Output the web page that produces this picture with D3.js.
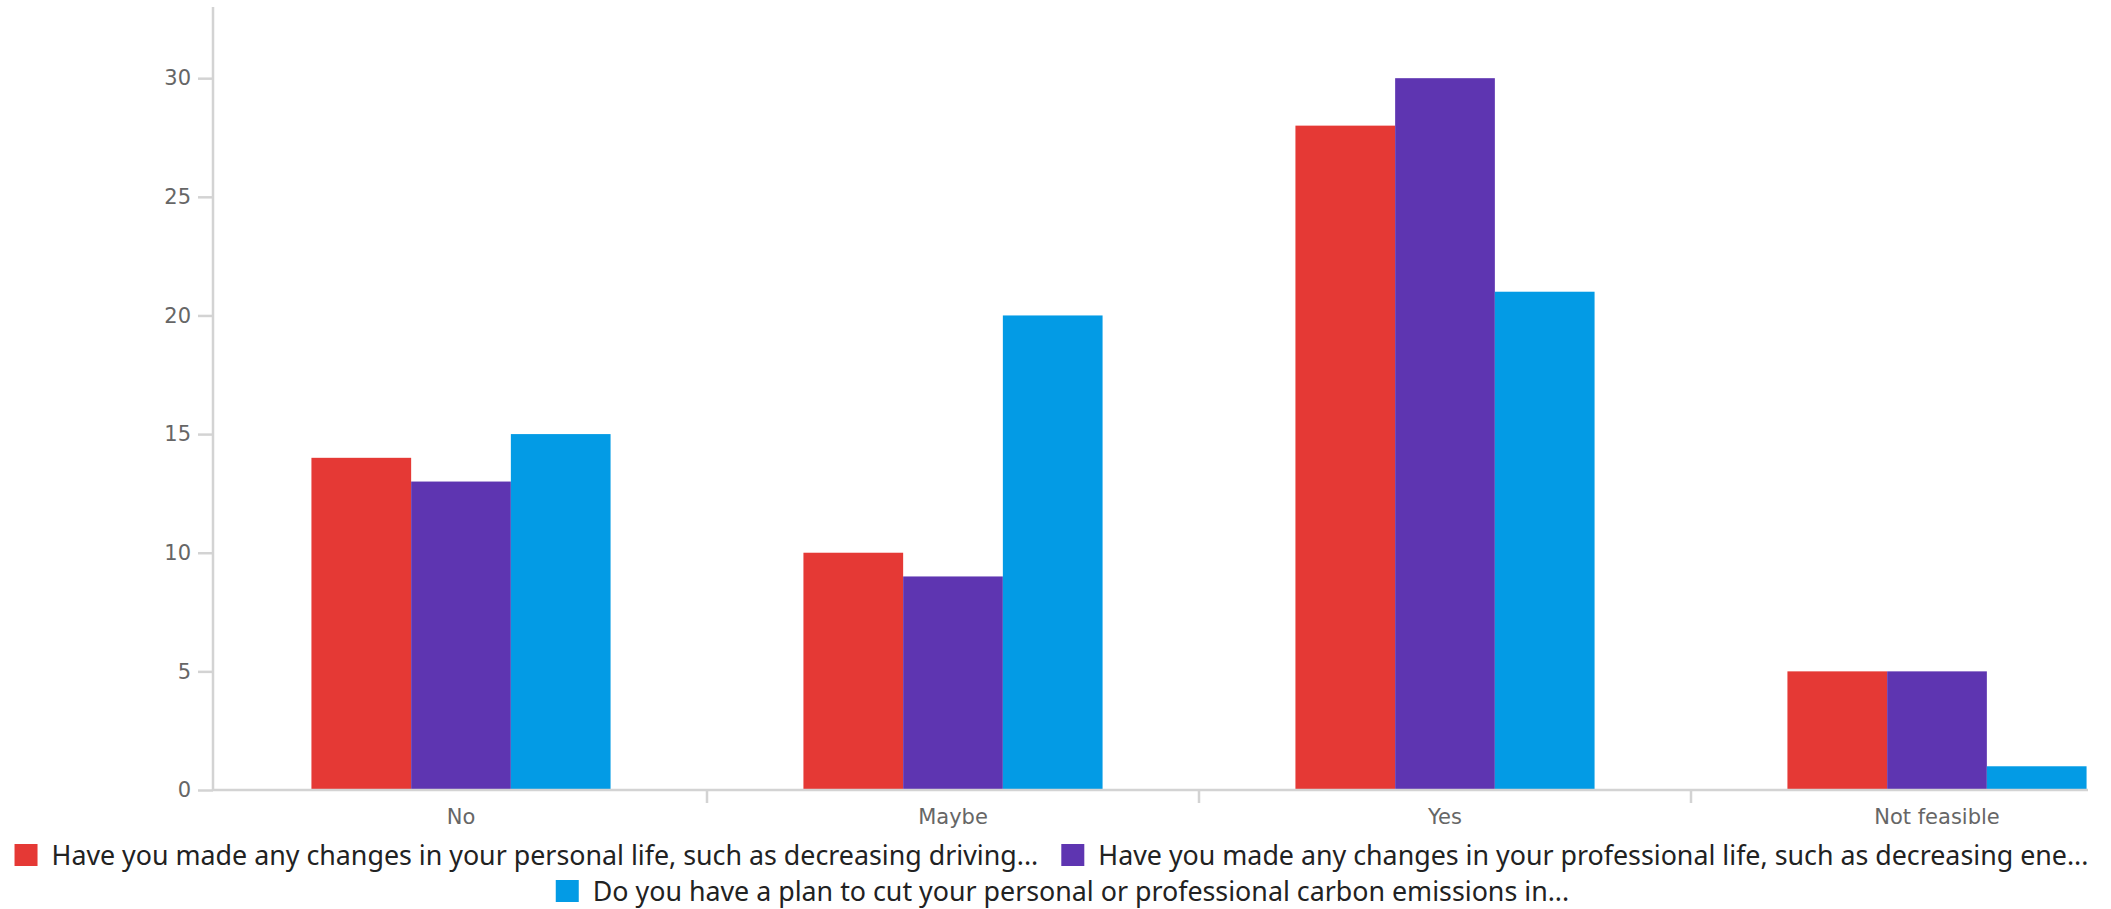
<!DOCTYPE html>
<html>
<head>
<meta charset="utf-8">
<script src="https://cdn.jsdelivr.net/npm/d3@7"></script>
<style>
  html, body { margin: 0; padding: 0; background: #fff; }
  svg { display: block; }
</style>
</head>
<body>
<svg id="chart" width="2111" height="909"></svg>
<script>
const categories = ["No", "Maybe", "Yes", "Not feasible"];
const seriesNames = [
  "Have you made any changes in your personal life, such as decreasing driving...",
  "Have you made any changes in your professional life, such as decreasing ene...",
  "Do you have a plan to cut your personal or professional carbon emissions in..."
];
const personalValues = [14, 10, 28, 5];
const professionalValues = [13, 9, 30, 5];
const planValues = [15, 20, 21, 1];
const seriesColors = ["#E53935", "#5E35B1", "#039BE5"];
const yTicks = [0, 5, 10, 15, 20, 25, 30];

const seriesValues = [personalValues, professionalValues, planValues];
const svg = d3.select("#chart");

const x0 = d3.scaleBand().domain(categories).range([215, 2183]).padding(0);
const x1 = d3.scaleBand().domain(d3.range(seriesNames.length))
  .range([x0.bandwidth() * 0.196, x0.bandwidth() * 0.804]).padding(0);
const y = d3.scaleLinear().domain([0, 33]).range([790, 7]);

svg.append("defs").append("clipPath").attr("id", "clip")
  .append("rect").attr("x", 0).attr("y", 0).attr("width", 2088).attr("height", 909);

const plot = svg.append("g").attr("clip-path", "url(#clip)");

// bars
const groups = plot.selectAll("g.cat").data(categories).enter().append("g")
  .attr("class", "cat")
  .attr("transform", d => `translate(${x0(d)},0)`);
groups.selectAll("rect").data((c, ci) => seriesValues.map((vals, si) => ({si, v: vals[ci]})))
  .enter().append("rect")
  .attr("x", d => x1(d.si))
  .attr("width", x1.bandwidth())
  .attr("y", d => y(d.v))
  .attr("height", d => y(0) - y(d.v))
  .attr("fill", d => seriesColors[d.si]);

// x axis
const axisColor = "#d3d3d3";
const labelColor = "#666";
const xAxisG = plot.append("g").attr("transform", `translate(0,${y(0)})`);
xAxisG.append("line").attr("x1", 213).attr("x2", x0.range()[1])
  .attr("stroke", axisColor).attr("stroke-width", 2.5);
xAxisG.selectAll("line.tick").data(categories.slice(1)).enter().append("line")
  .attr("class", "tick")
  .attr("x1", d => x0(d)).attr("x2", d => x0(d))
  .attr("y1", 0).attr("y2", 13)
  .attr("stroke", axisColor).attr("stroke-width", 2.5);
xAxisG.selectAll("text").data(categories).enter().append("text")
  .attr("x", d => x0(d) + x0.bandwidth() / 2)
  .attr("y", 34)
  .attr("text-anchor", "middle")
  .attr("font-family", "DejaVu Sans, sans-serif")
  .attr("font-size", 21)
  .attr("fill", labelColor)
  .text(d => d);

// y axis
const yAxis = d3.axisLeft(y).tickValues(yTicks).tickSize(15).tickPadding(7);
const yAxisG = svg.append("g").attr("transform", "translate(213,0)").call(yAxis);
yAxisG.select(".domain").attr("stroke", axisColor).attr("stroke-width", 2.5)
  .attr("d", `M0,${y(33)}V${y(0)}`);
yAxisG.selectAll(".tick line").attr("stroke", axisColor).attr("stroke-width", 2.5);
yAxisG.selectAll(".tick text")
  .attr("font-family", "DejaVu Sans, sans-serif")
  .attr("font-size", 21)
  .attr("fill", labelColor);

// legend
const rows = [[0, 1], [2]];
const rowBaselines = [865, 901];
const rowShift = [-4, 7];
const sq = 23, sqGap = 14, itemGap = 23;
rows.forEach((row, ri) => {
  const g = svg.append("g");
  let cx = 0;
  row.forEach(si => {
    const item = g.append("g").attr("transform", `translate(${cx},0)`);
    item.append("rect").attr("x", 0).attr("y", rowBaselines[ri] - 21)
      .attr("width", sq).attr("height", 22).attr("fill", seriesColors[si]);
    const t = item.append("text")
      .attr("x", sq + sqGap).attr("y", rowBaselines[ri])
      .attr("font-family", "Noto Sans, sans-serif")
      .attr("font-size", 26.8)
      .attr("fill", "#222")
      .text(seriesNames[si]);
    const w = t.node().getComputedTextLength();
    cx += sq + sqGap + w + itemGap;
  });
  const total = cx - itemGap;
  g.attr("transform", `translate(${(2111 - total) / 2 + rowShift[ri]},0)`);
});
</script>
</body>
</html>
